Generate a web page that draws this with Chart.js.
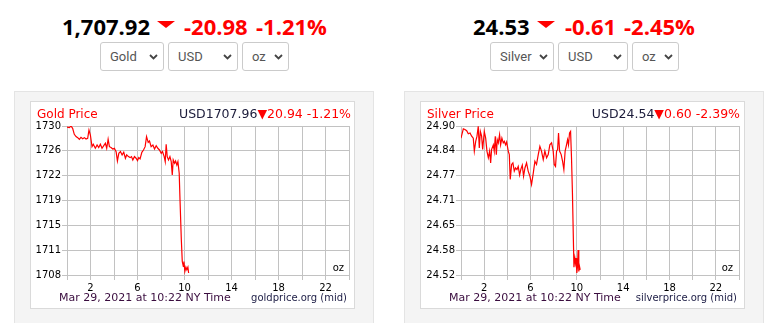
<!DOCTYPE html>
<html>
<head>
<meta charset="utf-8">
<script src="https://cdn.jsdelivr.net/npm/chart.js@4.4.0/dist/chart.umd.min.js"></script>
<style>
body{margin:0;width:776px;height:323px;background:#fff;position:relative;overflow:hidden;font-family:'DejaVu Sans',sans-serif}
.abs{position:absolute;white-space:nowrap}
.big{font:700 22px 'Open Sans',sans-serif;line-height:22px;top:15px;color:#000}
.red{color:#ff0000}
.tri{position:absolute;top:21px;width:0;height:0;border-left:9px solid transparent;border-right:9px solid transparent;border-top:7px solid #ff0000}
.sel{position:absolute;top:42px;height:29px;box-sizing:border-box;border:1px solid #cbcbcb;border-radius:3px;background:#fff;font:13px Roboto,sans-serif;color:#555;line-height:27px;padding-left:9px}
.sel svg{position:absolute;right:5px;top:11px}
.panel{position:absolute;top:91px;height:260px;background:#f4f4f4;border:1px solid #e4e4e4;box-sizing:border-box}
.box{position:absolute;top:101px;height:208px;width:325px;background:#fff;border:1px solid #dadada;box-sizing:border-box}
canvas{position:absolute;top:101px}
.ttl{font-size:12px;line-height:12px;top:108px}
.sub{font-size:12.5px;line-height:12px;top:108px;color:#1b1b3a}
.ft{font-size:11px;line-height:11px;top:292px;color:#3a0d3f}
.dm{font-size:10px;line-height:10px;top:293px;color:#1d1d45}
.oz{font-size:10px;line-height:10px;top:263px;color:#000}
</style>
</head>
<body>
<!-- gold header -->
<div class="abs big" style="left:62px">1,707.92</div>
<div class="tri" style="left:157px"></div>
<div class="abs big red" style="left:184px">-20.98</div>
<div class="abs big red" style="left:256px">-1.21%</div>
<div class="sel" style="left:100px;width:64px">Gold<svg width="9" height="6"><polyline points="1,1 4.5,4.5 8,1" fill="none" stroke="#444" stroke-width="1.8"/></svg></div>
<div class="sel" style="left:168px;width:70px">USD<svg width="9" height="6"><polyline points="1,1 4.5,4.5 8,1" fill="none" stroke="#444" stroke-width="1.8"/></svg></div>
<div class="sel" style="left:242px;width:47px">oz<svg width="9" height="6"><polyline points="1,1 4.5,4.5 8,1" fill="none" stroke="#444" stroke-width="1.8"/></svg></div>

<!-- silver header -->
<div class="abs big" style="left:473px">24.53</div>
<div class="tri" style="left:537px"></div>
<div class="abs big red" style="left:565px">-0.61</div>
<div class="abs big red" style="left:624px">-2.45%</div>
<div class="sel" style="left:490px;width:64px">Silver<svg width="9" height="6"><polyline points="1,1 4.5,4.5 8,1" fill="none" stroke="#444" stroke-width="1.8"/></svg></div>
<div class="sel" style="left:558px;width:70px">USD<svg width="9" height="6"><polyline points="1,1 4.5,4.5 8,1" fill="none" stroke="#444" stroke-width="1.8"/></svg></div>
<div class="sel" style="left:632px;width:47px">oz<svg width="9" height="6"><polyline points="1,1 4.5,4.5 8,1" fill="none" stroke="#444" stroke-width="1.8"/></svg></div>

<!-- panels -->
<div class="panel" style="left:14px;width:360px"></div>
<div class="panel" style="left:404px;width:360px"></div>
<div class="box" style="left:30px"></div>
<div class="box" style="left:420px"></div>
<canvas id="goldChart" width="325" height="208" style="left:30px"></canvas>
<canvas id="silverChart" width="324" height="208" style="left:421px"></canvas>

<div class="abs ttl red" style="left:37px">Gold Price</div>
<div class="abs sub" style="right:425px">USD1707.96<span class="red">▼20.94 -1.21%</span></div>
<div class="abs ft" style="left:59px">Mar 29, 2021 at 10:22 NY Time</div>
<div class="abs dm" style="right:429px">goldprice.org (mid)</div>
<div class="abs oz" style="right:432px">oz</div>

<div class="abs ttl red" style="left:427px">Silver Price</div>
<div class="abs sub" style="right:36px">USD24.54<span class="red">▼0.60 -2.39%</span></div>
<div class="abs ft" style="left:449px">Mar 29, 2021 at 10:22 NY Time</div>
<div class="abs dm" style="right:39px">silverprice.org (mid)</div>
<div class="abs oz" style="right:43px">oz</div>

<script>
// hours since midnight NY time, prices
const goldHours = [0, 0.20, 0.34, 0.48, 0.62, 0.77, 0.91, 1.05, 1.19, 1.33, 1.48, 1.62, 1.76, 1.87, 1.99,
  2.13, 2.24, 2.41, 2.56, 2.70, 2.84, 2.98, 3.13, 3.27, 3.38, 3.50, 3.61, 3.75, 3.89, 4.03, 4.18, 4.29,
  4.41, 4.55, 4.69, 4.83, 4.97, 5.08, 5.23, 5.37, 5.49, 5.60, 5.74, 5.88, 6.00, 6.11, 6.22, 6.37, 6.51,
  6.65, 6.77, 6.91, 7.02, 7.16, 7.31, 7.45, 7.59, 7.73, 7.87, 8.02, 8.13, 8.27, 8.36, 8.44, 8.53, 8.64,
  8.76, 8.87, 8.96, 9.04, 9.16, 9.24, 9.35, 9.44, 9.55, 9.62, 9.73, 9.81, 9.90, 9.95, 10.03, 10.12,
  10.20, 10.29, 10.35];
const goldPrices = [1729.85, 1729.75, 1730.0, 1729.66, 1728.77, 1728.43, 1728.28, 1728.04, 1728.33,
  1728.13, 1728.28, 1728.08, 1728.18, 1729.41, 1728.67, 1726.95, 1727.30, 1726.71, 1727.20, 1726.81,
  1727.30, 1726.71, 1727.10, 1727.45, 1726.71, 1728.04, 1726.95, 1726.81, 1726.61, 1726.71, 1726.22,
  1724.84, 1725.97, 1726.22, 1725.73, 1726.12, 1725.24, 1725.73, 1725.48, 1725.33, 1725.48, 1724.99,
  1725.48, 1725.24, 1724.89, 1725.33, 1725.14, 1726.12, 1726.46, 1726.95, 1728.43, 1727.59, 1727.79,
  1726.95, 1727.20, 1726.61, 1727.10, 1726.71, 1726.46, 1725.97, 1726.22, 1725.48, 1724.74, 1727.30,
  1725.48, 1724.99, 1725.48, 1724.74, 1722.78, 1724.99, 1724.50, 1724.84, 1724.25, 1724.74, 1723.03,
  1719.0, 1713.2, 1710.0, 1709.27, 1710.0, 1708.53, 1709.17, 1708.78, 1709.17, 1708.29];

const silverHours = [0, 0.20, 0.34, 0.49, 0.63, 0.78, 0.92, 1.06, 1.15, 1.27, 1.38, 1.49, 1.58, 1.67,
  1.78, 1.87, 2.01, 2.13, 2.24, 2.36, 2.47, 2.56, 2.64, 2.79, 2.87, 2.96, 3.05, 3.13, 3.22, 3.33, 3.42,
  3.53, 3.65, 3.74, 3.85, 3.94, 4.08, 4.17, 4.25, 4.37, 4.48, 4.60, 4.71, 4.83, 4.94, 5.06, 5.17, 5.29,
  5.40, 5.52, 5.66, 5.80, 5.95, 6.09, 6.24, 6.38, 6.52, 6.67, 6.81, 6.95, 7.10, 7.24, 7.39, 7.53, 7.67,
  7.82, 7.96, 8.05, 8.16, 8.25, 8.34, 8.42, 8.51, 8.65, 8.77, 8.88, 8.99, 9.11, 9.20, 9.28, 9.37, 9.46,
  9.54, 9.62, 9.75, 9.83, 9.89, 9.94, 10.00, 10.06, 10.11, 10.17, 10.23, 10.29];
const silverPrices = [24.869, 24.893, 24.891, 24.888, 24.880, 24.882, 24.874, 24.869, 24.836, 24.861,
  24.874, 24.899, 24.844, 24.886, 24.874, 24.840, 24.886, 24.869, 24.836, 24.819, 24.836, 24.806, 24.840,
  24.852, 24.836, 24.874, 24.827, 24.865, 24.857, 24.878, 24.852, 24.869, 24.857, 24.861, 24.852, 24.859,
  24.836, 24.827, 24.764, 24.802, 24.806, 24.785, 24.793, 24.789, 24.797, 24.775, 24.790, 24.800, 24.772,
  24.793, 24.806, 24.785, 24.772, 24.751, 24.780, 24.810, 24.802, 24.827, 24.848, 24.836, 24.814, 24.836,
  24.819, 24.827, 24.852, 24.857, 24.836, 24.802, 24.797, 24.836, 24.840, 24.882, 24.836, 24.827, 24.810,
  24.789, 24.836, 24.852, 24.865, 24.852, 24.882, 24.886, 24.819, 24.730, 24.540, 24.563, 24.550, 24.563,
  24.525, 24.542, 24.584, 24.529, 24.542, 24.533];

const hourRange = [0, 24];
const hourLabels = [2, 6, 10, 14, 18, 22];
const goldRange = [1708, 1730];
const goldYLabels = ['1708', '1711', '1715', '1719', '1722', '1726', '1730'];
const silverRange = [24.52, 24.90];
const silverYLabels = ['24.52', '24.58', '24.65', '24.71', '24.77', '24.84', '24.90'];

const gridColor = '#c2c2c2';
const tickFont = { family: 'DejaVu Sans', size: 10 };

function drawPriceChart(id, hours, prices, range, yLabels, axisWidth) {
  return new Chart(document.getElementById(id), {
    type: 'line',
    data: {
      datasets: [{
        data: hours.map((h, i) => ({ x: h, y: prices[i] })),
        borderColor: '#ff0000',
        borderWidth: 1.2,
        pointRadius: 0,
        tension: 0,
        fill: false
      }]
    },
    options: {
      responsive: false,
      animation: false,
      devicePixelRatio: 1,
      layout: { padding: { top: 25, right: 6, left: 0, bottom: 0 } },
      plugins: { legend: { display: false }, tooltip: { enabled: false } },
      scales: {
        x: {
          type: 'linear',
          min: hourRange[0],
          max: hourRange[1],
          ticks: {
            stepSize: 2, autoSkip: false, maxRotation: 0, padding: 2,
            color: '#000', font: tickFont,
            callback: v => hourLabels.includes(v) ? String(v) : ''
          },
          grid: { color: gridColor, tickLength: 5 },
          border: { color: gridColor },
          afterFit: s => { s.height = 34; }
        },
        y: {
          min: range[0],
          max: range[1],
          ticks: {
            count: 7, padding: 1, color: '#000', font: tickFont,
            callback: (v, i) => yLabels[i]
          },
          grid: { color: gridColor, tickLength: 5 },
          border: { color: gridColor },
          afterFit: s => { s.width = axisWidth; }
        }
      }
    }
  });
}

drawPriceChart('goldChart', goldHours, goldPrices, goldRange, goldYLabels, 37);
drawPriceChart('silverChart', silverHours, silverPrices, silverRange, silverYLabels, 40);
</script>
</body>
</html>
